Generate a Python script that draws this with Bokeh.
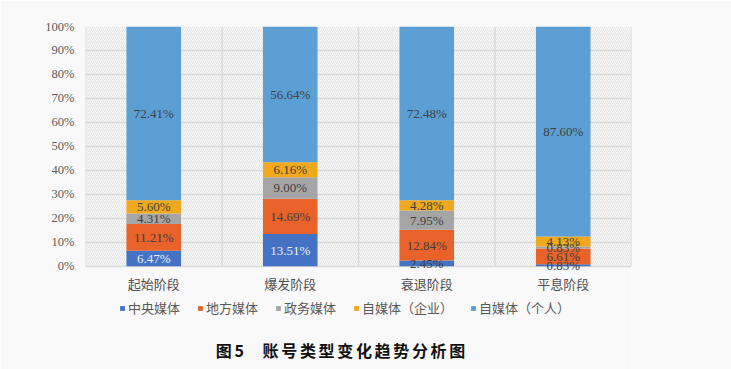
from bokeh.plotting import figure
from bokeh.models import (ColumnDataSource, Range1d, FixedTicker, Legend, LegendItem, Label)
from bokeh.core.properties import value
from bokeh.embed import file_html
from bokeh.resources import INLINE

categories = ["起始阶段", "爆发阶段", "衰退阶段", "平息阶段"]
series = ["中央媒体", "地方媒体", "政务媒体", "自媒体（企业）", "自媒体（个人）"]
central = [6.47, 13.51, 2.45, 0.83]
local = [11.21, 14.69, 12.84, 6.61]
gov = [4.31, 9.00, 7.95, 0.83]
we_corp = [5.60, 6.16, 4.28, 4.13]
we_person = [72.41, 56.64, 72.48, 87.60]
y_ticks = [0, 10, 20, 30, 40, 50, 60, 70, 80, 90, 100]
title_text = "图\u20065\u3000\u2006账\u2006号\u2006类\u2006型\u2006变\u2006化\u2006趋\u2006势\u2006分\u2006析\u2006图"

colors = ["#4472C4", "#E8622A", "#A5A5A5", "#F0A81C", "#5B9FD4"]
values = [central, local, gov, we_corp, we_person]

n = len(categories)
xs = [i + 0.5 for i in range(n)]
data = {"x": xs}
for name, vals in zip(series, values):
    data[name] = vals
src = ColumnDataSource(data)

# frame spans the legend/title area too; the value axis runs 0..100
p = figure(width=731, height=369, output_backend="svg", toolbar_location=None,
           x_range=Range1d(0, n), y_range=Range1d(-43, 100),
           min_border_left=85, min_border_right=100, min_border_top=26, min_border_bottom=0)
p.background_fill_color = "#f9f9f9"
p.border_fill_color = "#f9f9f9"
p.outline_line_color = None

# hatched plot background
p.quad(left=[0], right=[n], bottom=[0], top=[100],
       fill_color="#f7f7f7", line_color=None,
       hatch_pattern="/", hatch_color="#e6e6e6", hatch_scale=4, hatch_weight=1, level="underlay")

p.ygrid.ticker = FixedTicker(ticks=y_ticks)
p.ygrid.grid_line_color = "#dadada"
p.ygrid.grid_line_width = 1.5
p.ygrid.level = "underlay"
p.xgrid.visible = False
bounds = list(range(n + 1))
p.segment(x0=bounds, x1=bounds, y0=[0] * len(bounds), y1=[100] * len(bounds),
          line_color="#dadada", line_width=1.5, level="underlay")

renderers = p.vbar_stack(series, x="x", width=0.4, source=src, color=colors, line_color=None)

# labels
lx, ly, lt, lc = [], [], [], []
cum = [0.0] * n
for si, vals in enumerate(values):
    for ci, v in enumerate(vals):
        lx.append(xs[ci])
        ly.append(cum[ci] + v / 2)
        lt.append(f"{v:.2f}%")
        lc.append("#eef0f8" if (si == 0 and v > 3) else "#404040")
        cum[ci] += v
p.text(x=lx, y=ly, text=lt, text_color=lc, text_align="center", text_baseline="middle",
       text_font=value("Liberation Serif"), text_font_size="13px")

# category labels
p.text(x=xs, y=[-7] * n, text=categories, text_color="#505050", text_align="center",
       text_baseline="middle", text_font=value("Noto Sans CJK SC"), text_font_size="13px")

p.xaxis.visible = False
p.yaxis.ticker = FixedTicker(ticks=y_ticks)
p.yaxis.major_label_overrides = {t: f"{t}%" for t in y_ticks}
p.yaxis.major_label_text_font = "Liberation Serif"
p.yaxis.major_label_text_font_size = "12.5px"
p.yaxis.major_label_text_color = "#595959"
p.yaxis.major_label_standoff = 5
p.yaxis.axis_line_color = None
p.yaxis.major_tick_line_color = None
p.yaxis.minor_tick_line_color = None

legend = Legend(items=[LegendItem(label=s, renderers=[r]) for s, r in zip(series, renderers)],
                orientation="horizontal", location=(34, 52),
                glyph_width=6, glyph_height=6, label_standoff=3, spacing=17,
                padding=0, margin=0, border_line_color=None, background_fill_alpha=0,
                label_text_font="Noto Sans CJK SC", label_text_font_size="13px",
                label_text_color="#595959", label_height=14)
p.add_layout(legend, "center")

p.add_layout(Label(x=255, y=20, x_units="screen", y_units="screen", text=title_text,
                   text_align="center", text_baseline="middle", text_font="Noto Sans CJK SC",
                   text_font_style="bold", text_font_size="16px", text_color="#111111"))

open("out.html", "w").write(file_html(p, INLINE))
